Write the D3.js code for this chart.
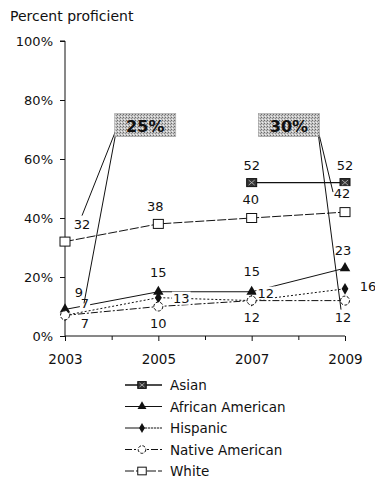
<!DOCTYPE html>
<html>
<head>
<meta charset="utf-8">
<script src="https://cdn.jsdelivr.net/npm/d3@7"></script>
<style>
  html, body { margin: 0; padding: 0; background: #fff; }
  svg { display: block; font-family: "DejaVu Sans", Verdana, sans-serif; }
</style>
</head>
<body>
<svg id="chart" width="375" height="485"></svg>
<script>
// ---- data ----
const years = [2003, 2005, 2007, 2009];
const asian = [null, null, 52, 52];
const africanAmerican = [9, 15, 15, 23];
const hispanic = [7, 13, 12, 16];
const nativeAmerican = [7, 10, 12, 12];
const white = [32, 38, 40, 42];
const seriesNames = ["Asian", "African American", "Hispanic", "Native American", "White"];
const yTicks = [0, 20, 40, 60, 80, 100];
const gapLabels = ["25%", "30%"];
const gapYears = [2003, 2009];

const FONT = "DejaVu Sans, Verdana, sans-serif";
const svg = d3.select("#chart");

const x = d3.scaleLinear().domain([2003, 2009]).range([65, 345]);
const y = d3.scaleLinear().domain([0, 100]).range([336, 41]);

// dithered fill for the gap call-out boxes
const defs = svg.append("defs");
const pat = defs.append("pattern").attr("id", "dither")
  .attr("width", 3).attr("height", 3).attr("patternUnits", "userSpaceOnUse");
pat.append("rect").attr("width", 3).attr("height", 3).attr("fill", "#c4c4c4");
pat.append("rect").attr("x", 0).attr("y", 0).attr("width", 1).attr("height", 1).attr("fill", "#6a6a6a");
pat.append("rect").attr("x", 2).attr("y", 1).attr("width", 1).attr("height", 1).attr("fill", "#8a8a8a");
pat.append("rect").attr("x", 1).attr("y", 2).attr("width", 1).attr("height", 1).attr("fill", "#eeeeee");

// title
svg.append("text").attr("x", 10).attr("y", 21)
  .attr("font-size", 14).attr("fill", "#111").text("Percent proficient");

// y axis
const yAxis = d3.axisLeft(y).tickValues(yTicks).tickFormat(d => d + "%").tickSize(5).tickPadding(7);
const gy = svg.append("g").attr("transform", `translate(${x(2003)},0)`).call(yAxis);
gy.select(".domain").attr("stroke", "#111").attr("d", `M-5,${y(100)}H0V${y(0)}`);
gy.selectAll(".tick line").attr("stroke", "#111");
gy.selectAll(".tick text").attr("font-size", 13).attr("fill", "#111").attr("font-family", FONT);

// x axis with minor ticks between the test years
const gxMinor = svg.append("g").attr("transform", `translate(0,${y(0)})`)
  .call(d3.axisBottom(x).tickValues([2004, 2006, 2008]).tickSize(4).tickFormat(""));
gxMinor.select(".domain").remove();
gxMinor.selectAll(".tick line").attr("stroke", "#111");
const gx = svg.append("g").attr("transform", `translate(0,${y(0)})`)
  .call(d3.axisBottom(x).tickValues(years).tickFormat(d3.format("d")).tickSize(5).tickPadding(13));
gx.select(".domain").attr("stroke", "#111").attr("d", `M${x(2003)},0H${x(2009)}`);
gx.selectAll(".tick line").attr("stroke", "#111");
gx.selectAll(".tick text").attr("font-size", 13.5).attr("fill", "#111").attr("font-family", FONT);

// series definitions
const series = [
  { name: seriesNames[0], values: asian, dash: null, width: 1.4, marker: "asian" },
  { name: seriesNames[1], values: africanAmerican, dash: null, width: 1, marker: "triangle" },
  { name: seriesNames[2], values: hispanic, dash: "2,2", width: 1, marker: "diamond" },
  { name: seriesNames[3], values: nativeAmerican, dash: "7,2,2,2", width: 1, marker: "circle" },
  { name: seriesNames[4], values: white, dash: "9,2", width: 1, marker: "square" }
];

// label offsets from each point (per series, per year)
const labelOffsets = {
  "Asian": [null, null, [0, -17], [0, -17]],
  "African American": [[14, -17], [0, -19], [0, -20], [-2, -18]],
  "Hispanic": [[20, -12], [23, 1], [14, -7], [23, -2]],
  "Native American": [[20, 8], [0, 17], [0, 17], [-2, 17]],
  "White": [[17, -17], [-3, -17], [-1, -19], [-3, -19]]
};

const line = d3.line()
  .defined(d => d.v != null)
  .x(d => x(d.year)).y(d => y(d.v));

const gLines = svg.append("g");
series.forEach(s => {
  const pts = years.map((yr, i) => ({ year: yr, v: s.values[i] }));
  gLines.append("path").datum(pts)
    .attr("d", line)
    .attr("fill", "none").attr("stroke", "#111")
    .attr("stroke-width", s.width)
    .attr("stroke-dasharray", s.dash);
});

function drawMarker(g, type, cx, cy, k = 1) {
  if (type === "asian") {
    g.append("rect").attr("x", cx - 5 * k).attr("y", cy - 4 * k).attr("width", 10 * k).attr("height", 8 * k)
      .attr("fill", "#333").attr("stroke", "#111");
    g.append("path").attr("d", `M${cx - 3 * k},${cy - 2.5 * k}L${cx + 3 * k},${cy + 2.5 * k}M${cx + 3 * k},${cy - 2.5 * k}L${cx - 3 * k},${cy + 2.5 * k}`)
      .attr("stroke", "#bbb").attr("stroke-width", 0.8);
  } else if (type === "triangle") {
    g.append("path").attr("d", d3.symbol(d3.symbolTriangle, 48 * k * k)())
      .attr("transform", `translate(${cx},${cy})`).attr("fill", "#111");
  } else if (type === "diamond") {
    g.append("path").attr("d", d3.symbol(d3.symbolDiamond, 40 * k * k)())
      .attr("transform", `translate(${cx},${cy})`).attr("fill", "#111");
  } else if (type === "circle") {
    g.append("circle").attr("cx", cx).attr("cy", cy).attr("r", 4.5 * k)
      .attr("fill", "#fff").attr("stroke", "#111").attr("stroke-dasharray", "3,1.5");
  } else if (type === "square") {
    g.append("rect").attr("x", cx - 5 * k).attr("y", cy - 4.5 * k).attr("width", 10 * k).attr("height", 9 * k)
      .attr("fill", "#fff").attr("stroke", "#111");
  }
}

// markers
const gMarks = svg.append("g");
series.forEach(s => {
  years.forEach((yr, i) => {
    const v = s.values[i];
    if (v == null) return;
    drawMarker(gMarks, s.marker, x(yr), y(v));
  });
});

// value labels with a white backing
const gLabels = svg.append("g").attr("font-size", 13).attr("fill", "#111");
const labelPos = {};
series.forEach(s => {
  labelPos[s.name] = [];
  years.forEach((yr, i) => {
    const v = s.values[i];
    if (v == null) return;
    const off = labelOffsets[s.name][i];
    const lx = x(yr) + off[0], ly = y(v) + off[1];
    labelPos[s.name][i] = [lx, ly];
    const txt = String(v);
    const w = txt.length * 8.3 + 2;
    gLabels.append("rect").attr("x", lx - w / 2).attr("y", ly - 7)
      .attr("width", w).attr("height", 13).attr("fill", "#fff");
    gLabels.append("text").attr("x", lx).attr("y", ly)
      .attr("text-anchor", "middle").attr("dominant-baseline", "central")
      .attr("fill", "#111").text(txt);
  });
});

// gap call-outs: White vs the lowest group
const boxYear = [2004.72, 2007.8];
const boxValue = 71.5;
const gGap = svg.append("g");
gapYears.forEach((yr, k) => {
  const i = years.indexOf(yr);
  const bx = x(boxYear[k]), by = y(boxValue);
  const bw = 61, bh = 23;
  const hiLab = labelPos["White"][i];
  const loLab = labelPos[k === 0 ? "Hispanic" : "Native American"][i];
  // leader lines
  const sx = k === 0 ? bx - bw / 2 + 2 : bx + bw / 2 - 2;
  const sy = by + 3;
  const ends = k === 0
    ? [[hiLab[0], hiLab[1] - 9], [loLab[0] - 1, loLab[1]]]
    : [[hiLab[0] - 9, hiLab[1] - 1], [loLab[0] - 2, loLab[1] - 8]];
  ends.forEach(e => {
    gGap.append("line").attr("x1", sx).attr("y1", sy).attr("x2", e[0]).attr("y2", e[1])
      .attr("stroke", "#111").attr("stroke-width", 1);
  });
  gGap.append("rect").attr("x", bx - bw / 2).attr("y", by - bh / 2)
    .attr("width", bw).attr("height", bh)
    .attr("fill", "url(#dither)").attr("stroke", "#999").attr("stroke-width", 0.6);
  gGap.append("text").attr("x", bx).attr("y", by + 1)
    .attr("text-anchor", "middle").attr("dominant-baseline", "central")
    .attr("font-size", 16).attr("font-weight", "bold").attr("fill", "#111")
    .text(gapLabels[k]);
});

// legend
const gLeg = svg.append("g");
series.forEach((s, i) => {
  const ly = 385 + i * 21.5;
  gLeg.append("line").attr("x1", 125).attr("x2", 162).attr("y1", ly).attr("y2", ly)
    .attr("stroke", "#111").attr("stroke-width", s.width)
    .attr("stroke-dasharray", s.marker === "diamond" ? null : s.dash);
  if (s.marker === "diamond") {
    gLeg.append("line").attr("x1", 146).attr("x2", 162).attr("y1", ly).attr("y2", ly)
      .attr("stroke", "#fff").attr("stroke-width", 1.5).attr("stroke-dasharray", "0,1,1,1");
  }
  drawMarker(gLeg, s.marker, 142, ly, 0.85);
  gLeg.append("text").attr("x", 170).attr("y", ly)
    .attr("dominant-baseline", "central").attr("font-size", 13.5).attr("fill", "#111")
    .text(s.name);
});
</script>
</body>
</html>
